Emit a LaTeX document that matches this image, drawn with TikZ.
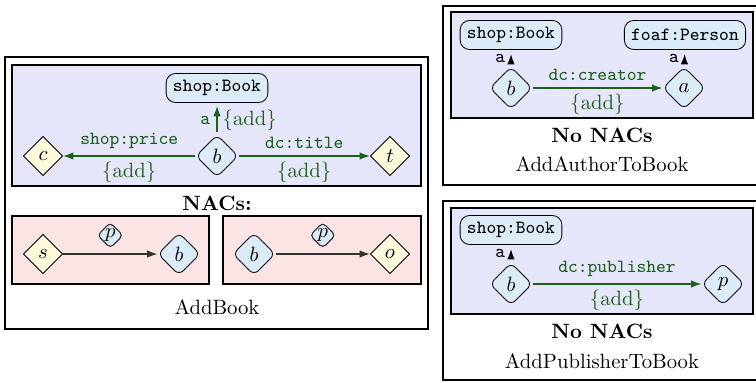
\documentclass[tikz,border=0pt]{standalone}
\usetikzlibrary{shapes.geometric,arrows.meta}
\definecolor{rulebg}{HTML}{E6E6FA}
\definecolor{nacbg}{HTML}{FDE4E4}
\definecolor{resnode}{HTML}{DCEBF8}
\definecolor{varnode}{HTML}{FFFBDC}
\definecolor{addgreen}{HTML}{1E5F1E}
\tikzset{
  outerbox/.style={draw, line width=0.7pt},
  lhsbox/.style={draw, fill=rulebg, line width=1.1pt},
  nacbox/.style={draw, fill=nacbg, line width=1.1pt},
  clsnode/.style={draw, fill=resnode, rounded corners=4.5pt, font=\small\ttfamily,
    minimum height=14pt, inner xsep=3.3pt, inner ysep=0pt},
  resnode/.style={diamond, draw, fill=resnode, rounded corners=3pt,
    minimum size=20.5pt, inner sep=0pt},
  varnode/.style={diamond, draw, fill=varnode, minimum size=19pt, inner sep=0pt},
  prednode/.style={diamond, draw, fill=resnode, rounded corners=2pt,
    minimum size=12.5pt, inner sep=0pt},
  addarrow/.style={draw=addgreen, line width=0.55pt, -{Latex[length=5pt,width=3.6pt]}},
  plainarrow/.style={draw=black!80, line width=0.55pt, -{Latex[length=5pt,width=3.6pt]}},
  typearrow/.style={draw, line width=0.55pt, -{Latex[length=5pt,width=3.6pt]}},
  predlbl/.style={font=\small\ttfamily, text=addgreen},
  addlbl/.style={text=addgreen},
  title/.style={font=\bfseries},
}
\begin{document}
\begin{tikzpicture}[x=0.483pt,y=-0.483pt]
\clip (0,0) rectangle (756,382);

% ---------- AddBook ----------
\draw[outerbox] (5,57) rectangle (428,329);
\draw[lhsbox] (12,65) rectangle (421,186);
\node[clsnode] (ab-cls) at (217,88) {shop:Book};
\node[resnode] (ab-b) at (217,156) {$b$};
\node[varnode] (ab-c) at (43,156) {$c$};
\node[varnode] (ab-t) at (390,156) {$t$};
\draw[addarrow, shorten >=1.5pt, shorten <=1pt] (ab-b) -- (ab-cls)
  node[pos=0.45, left, predlbl, inner sep=3pt] {a}
  node[pos=0.45, right, addlbl, inner sep=2.5pt] {$\{$add$\}$};
\draw[addarrow] (ab-b) -- (ab-c)
  node[midway, above, predlbl, inner sep=3.2pt] {shop:price}
  node[midway, below, addlbl, inner sep=2.6pt] {$\{$add$\}$};
\draw[addarrow] (ab-b) -- (ab-t)
  node[midway, above, predlbl, inner sep=3.2pt] {dc:title}
  node[midway, below, addlbl, inner sep=2.6pt] {$\{$add$\}$};

\node[title] (ab-nacs) at (217,203) {NACs:};

\draw[nacbox] (12,216) rectangle (209,284);
\node[varnode] (n1-s) at (43,254) {$s$};
\node[resnode] (n1-b) at (179,254) {$b$};
\draw[plainarrow] (n1-s) -- (n1-b)
  node[midway, above=2.5pt, prednode] (n1-p) {$p$};

\draw[nacbox] (223,216) rectangle (421,284);
\node[resnode] (n2-b) at (254,254) {$b$};
\node[varnode] (n2-o) at (390,254) {$o$};
\draw[plainarrow] (n2-b) -- (n2-o)
  node[midway, above=2.5pt, prednode] (n2-p) {$p$};

\node (ab-name) at (217,307) {AddBook};

% ---------- AddAuthorToBook ----------
\draw[outerbox] (443,6) rectangle (762,185);
\draw[lhsbox] (451,12) rectangle (753,118);
\node[clsnode] (aa-cls) at (511,35) {shop:Book};
\node[clsnode] (aa-per) at (685,35) {foaf:Person};
\node[resnode] (aa-b) at (511,88) {$b$};
\node[resnode] (aa-a) at (684,88) {$a$};
\draw[typearrow, shorten >=2pt, shorten <=2pt] (aa-b) -- (aa-cls)
  node[midway, left, font=\small\ttfamily, inner sep=2.5pt] {a};
\draw[typearrow, shorten >=2pt, shorten <=2pt] (aa-a) -- (aa-per)
  node[midway, left, font=\small\ttfamily, inner sep=2.5pt] {a};
\draw[addarrow] (aa-b) -- (aa-a)
  node[midway, above, predlbl, inner sep=3.2pt] {dc:creator}
  node[midway, below, addlbl, inner sep=2.6pt] {$\{$add$\}$};
\node[title] (aa-nonac) at (602,135) {No NACs};
\node (aa-name) at (602,164) {AddAuthorToBook};

% ---------- AddPublisherToBook ----------
\draw[outerbox] (443,201) rectangle (762,380);
\draw[lhsbox] (451,208) rectangle (753,314);
\node[clsnode] (ap-cls) at (511,230) {shop:Book};
\node[resnode] (ap-b) at (511,284) {$b$};
\node[resnode] (ap-p) at (723,284) {$p$};
\draw[typearrow, shorten >=2pt, shorten <=2pt] (ap-b) -- (ap-cls)
  node[midway, left, font=\small\ttfamily, inner sep=2.5pt] {a};
\draw[addarrow] (ap-b) -- (ap-p)
  node[midway, above, predlbl, inner sep=3.2pt] {dc:publisher}
  node[midway, below, addlbl, inner sep=2.6pt] {$\{$add$\}$};
\node[title] (ap-nonac) at (602,331) {No NACs};
\node (ap-name) at (602,361) {AddPublisherToBook};
\end{tikzpicture}
\end{document}
